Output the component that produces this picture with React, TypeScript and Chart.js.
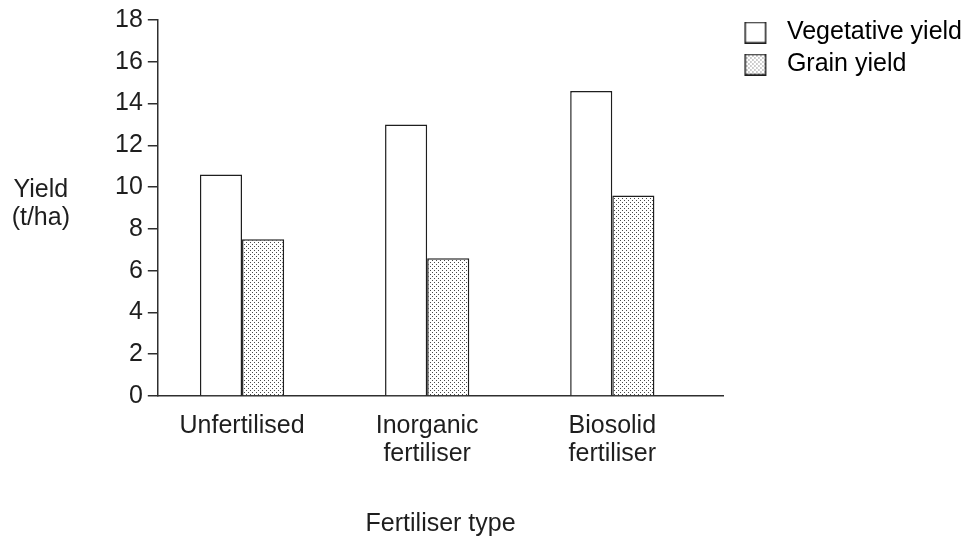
import { useEffect, useRef } from 'react';
import { Chart, registerables } from 'chart.js';

Chart.register(...registerables);

// ---- data ----
const categoryLabels: string[][] = [['Unfertilised'], ['Inorganic', 'fertiliser'], ['Biosolid', 'fertiliser']];
const categoryPositions = [1, 2, 3];
const vegetativeYield = [10.6, 13.0, 14.6];
const grainYield = [7.5, 6.6, 9.6];
const seriesLabels = ['Vegetative yield', 'Grain yield'];
const yTitleLines = ['Yield', '(t/ha)'];
const xTitle = 'Fertiliser type';
const yMin = 0;
const yMax = 18;
const yStep = 2;

const FONT = "'Liberation Sans', Arial, Helvetica, sans-serif";
const INK = '#1e1e1e';
const AXIS = '#2e2e2e';

function makeStipple(ctx: CanvasRenderingContext2D): CanvasPattern {
  const c = document.createElement('canvas');
  c.width = 4;
  c.height = 4;
  const g = c.getContext('2d')!;
  g.fillStyle = '#ffffff';
  g.fillRect(0, 0, 4, 4);
  g.fillStyle = '#4a4a4a';
  g.fillRect(0, 0, 1, 1);
  g.fillRect(2, 2, 1, 1);
  return ctx.createPattern(c, 'repeat')!;
}

function makeMarker(stippled: boolean): HTMLCanvasElement {
  const c = document.createElement('canvas');
  c.width = 44;
  c.height = 22;
  const g = c.getContext('2d')!;
  g.fillStyle = stippled ? makeStipple(g) : '#ffffff';
  g.fillRect(14, 0, 22, 22);
  g.strokeStyle = INK;
  g.lineWidth = 1.5;
  g.strokeRect(14.75, 0.75, 20.5, 20.5);
  return c;
}

const yTitlePlugin = {
  id: 'yTitleHorizontal',
  afterDraw(chart: any) {
    const { ctx, chartArea } = chart;
    const mid = (chartArea.top + chartArea.bottom) / 2;
    ctx.save();
    ctx.font = `25px ${FONT}`;
    ctx.fillStyle = INK;
    ctx.textAlign = 'center';
    ctx.textBaseline = 'alphabetic';
    const x = chartArea.left - 117;
    yTitleLines.forEach((t, i) => ctx.fillText(t, x, mid - 11 + i * 28));
    ctx.restore();
  },
};

export default function App() {
  const ref = useRef<HTMLCanvasElement | null>(null);

  useEffect(() => {
    const canvas = ref.current!;
    const ctx = canvas.getContext('2d')!;
    const stipple = makeStipple(ctx);
    const markers = [makeMarker(false), makeMarker(true)];

    const chart = new Chart(canvas, {
      type: 'bar',
      data: {
        datasets: [
          {
            label: seriesLabels[0],
            data: categoryPositions.map((x, i) => ({ x, y: vegetativeYield[i] })),
            backgroundColor: '#ffffff',
            borderColor: INK,
            borderWidth: 1.5,
            barPercentage: 1,
            categoryPercentage: 0.455,
          },
          {
            label: seriesLabels[1],
            data: categoryPositions.map((x, i) => ({ x, y: grainYield[i] })),
            backgroundColor: stipple as any,
            borderColor: INK,
            borderWidth: 1.5,
            barPercentage: 1,
            categoryPercentage: 0.455,
          },
        ],
      },
      options: {
        responsive: false,
        animation: false,
        events: [],
        layout: { padding: { top: 13, left: 110, right: 0, bottom: 0 } },
        scales: {
          x: {
            type: 'linear',
            offset: false,
            min: 0.545,
            max: 3.6,
            afterBuildTicks: (s: any) => {
              s.ticks = categoryPositions.map((v) => ({ value: v }));
            },
            afterFit: (s: any) => {
              s.paddingLeft = 0;
              s.paddingRight = 0;
            },
            grid: { display: false, drawTicks: false, offset: false },
            border: { display: true, color: AXIS, width: 1.5 },
            ticks: {
              autoSkip: false,
              maxRotation: 0,
              padding: 16,
              color: INK,
              font: { size: 25, family: FONT, lineHeight: 1.12 },
              callback: (v: any) => {
                const i = categoryPositions.indexOf(Number(v));
                return i >= 0 ? categoryLabels[i] : '';
              },
            },
            title: {
              display: true,
              text: xTitle,
              color: INK,
              font: { size: 25, family: FONT, lineHeight: 1.2 },
              padding: { top: 25, bottom: 1 },
            },
          },
          y: {
            min: yMin,
            max: yMax,
            afterFit: (s: any) => {
              s.paddingTop = 20;
            },
            grid: {
              display: true,
              drawOnChartArea: false,
              drawTicks: true,
              tickLength: 10,
              color: AXIS,
              lineWidth: 1.5,
            },
            border: { display: true, color: AXIS, width: 1.5 },
            ticks: {
              stepSize: yStep,
              padding: 5,
              color: INK,
              font: { size: 25, family: FONT },
            },
          },
        },
        plugins: {
          tooltip: { enabled: false },
          legend: {
            position: 'right',
            align: 'start',
            maxWidth: 260,
            labels: {
              usePointStyle: true,
              pointStyleWidth: 44,
              boxHeight: 22,
              padding: 7,
              color: INK,
              font: { size: 25, family: FONT },
              generateLabels: () =>
                seriesLabels.map((t, i) => ({
                  text: t,
                  pointStyle: markers[i] as any,
                  fillStyle: '#ffffff',
                  strokeStyle: INK,
                  lineWidth: 0,
                  hidden: false,
                  datasetIndex: i,
                })),
            },
          },
        },
      } as any,
      plugins: [yTitlePlugin],
    });
    return () => chart.destroy();
  }, []);

  return (
    <canvas
      ref={ref}
      width={972}
      height={540}
      style={{ position: 'fixed', left: 0, top: 0, width: 972, height: 540, display: 'block', background: '#fff' }}
    />
  );
}
